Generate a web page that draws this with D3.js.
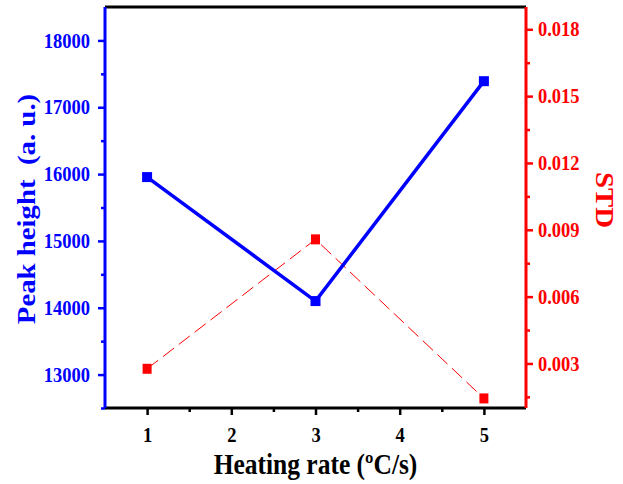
<!DOCTYPE html>
<html>
<head>
<meta charset="utf-8">
<script src="https://cdn.jsdelivr.net/npm/d3@7"></script>
<style>
  body { margin: 0; background: #fff; }
  text { font-family: "Liberation Serif", "Times New Roman", serif; font-weight: bold; }
</style>
</head>
<body>
<script>
// données
const rates = [1, 3, 5];
const peakHeight = [15955, 14100, 17390];
const std = [0.00276, 0.00857, 0.00143];
const xTicks = [1, 2, 3, 4, 5];
const leftTicks = [13000, 14000, 15000, 16000, 17000, 18000];
const rightTicks = [0.003, 0.006, 0.009, 0.012, 0.015, 0.018];

const width = 623;
const height = 484;
const margin = { top: 7, right: 97, bottom: 76, left: 105 };
const stretch = 1.13; // le texte de la figure est un peu étiré en hauteur

const svg = d3.select('body')
  .append('svg')
  .attr('width', width)
  .attr('height', height);

const x = d3.scaleLinear()
  .domain([0.5, 5.5])
  .range([margin.left, width - margin.right]);

const yL = d3.scaleLinear()
  .domain([12500, 18500])
  .range([height - margin.bottom, margin.top]);

const yR = d3.scaleLinear()
  .domain([0.001, 0.019])
  .range([height - margin.bottom, margin.top]);

const blue = '#0000ff';
const red = '#ff0000';

// axe du bas (ticks mineurs puis majeurs)
svg.append('g')
  .attr('transform', `translate(0, ${height - margin.bottom})`)
  .call(d3.axisBottom(x).tickValues([1.5, 2.5, 3.5, 4.5]).tickSize(4).tickFormat(''))
  .call(g => g.selectAll('line').attr('stroke-width', 2.5))
  .call(g => g.select('.domain').remove());
svg.append('g')
  .attr('transform', `translate(0, ${height - margin.bottom})`)
  .call(d3.axisBottom(x).tickValues(xTicks).tickSize(7).tickPadding(10).tickFormat(d3.format('d')))
  .call(g => g.select('.domain').remove())
  .call(g => g.selectAll('line').attr('stroke-width', 2.5))
  .call(g => g.selectAll('text').attr('font-size', 18.5).attr('fill', '#000')
    .attr('transform', `scale(1, ${stretch})`));

// axe de gauche
svg.append('g')
  .attr('transform', `translate(${margin.left}, 0)`)
  .call(d3.axisLeft(yL).tickValues(d3.range(12500, 18500, 1000)).tickSize(4).tickFormat(''))
  .call(g => g.select('.domain').remove())
  .call(g => g.selectAll('line').attr('stroke', blue).attr('stroke-width', 2.5));
svg.append('g')
  .attr('transform', `translate(${margin.left}, 0)`)
  .call(d3.axisLeft(yL).tickValues(leftTicks).tickSize(7).tickPadding(8).tickFormat(d3.format('d')))
  .call(g => g.select('.domain').remove())
  .call(g => g.selectAll('line').attr('stroke', blue).attr('stroke-width', 2.5))
  .call(g => g.selectAll('text').attr('font-size', 18.5).attr('fill', blue)
    .attr('transform', `scale(1, ${stretch})`));

// axe de droite
svg.append('g')
  .attr('transform', `translate(${width - margin.right}, 0)`)
  .call(d3.axisRight(yR).tickValues([0.0015, 0.0045, 0.0075, 0.0105, 0.0135, 0.0165]).tickSize(4).tickFormat(''))
  .call(g => g.select('.domain').remove())
  .call(g => g.selectAll('line').attr('stroke', red).attr('stroke-width', 2.5));
svg.append('g')
  .attr('transform', `translate(${width - margin.right}, 0)`)
  .call(d3.axisRight(yR).tickValues(rightTicks).tickSize(7).tickPadding(5).tickFormat(d3.format('.3f')))
  .call(g => g.select('.domain').remove())
  .call(g => g.selectAll('line').attr('stroke', red).attr('stroke-width', 2.5))
  .call(g => g.selectAll('text').attr('font-size', 18.5).attr('fill', red)
    .attr('transform', `scale(1, ${stretch})`));

// cadre
const x0 = margin.left, x1 = width - margin.right;
const y0 = margin.top, y1 = height - margin.bottom;
svg.append('line').attr('x1', x0).attr('x2', x1).attr('y1', y0).attr('y2', y0)
  .attr('stroke', '#000').attr('stroke-width', 3);
svg.append('line').attr('x1', x0).attr('x2', x1).attr('y1', y1).attr('y2', y1)
  .attr('stroke', '#000').attr('stroke-width', 3);
svg.append('line').attr('x1', x0).attr('x2', x0).attr('y1', y0).attr('y2', y1)
  .attr('stroke', blue).attr('stroke-width', 3);
svg.append('line').attr('x1', x1).attr('x2', x1).attr('y1', y0).attr('y2', y1)
  .attr('stroke', red).attr('stroke-width', 3);

// série STD (rouge, tirets)
const lineR = d3.line().x((d, i) => x(rates[i])).y(d => yR(d));
svg.append('path')
  .datum(std)
  .attr('d', lineR)
  .attr('fill', 'none')
  .attr('stroke', red)
  .attr('stroke-width', 1)
  .attr('stroke-dasharray', '14,6');
svg.append('g')
  .selectAll('rect')
  .data(std)
  .enter()
  .append('rect')
  .attr('x', (d, i) => x(rates[i]) - 4.5)
  .attr('y', d => yR(d) - 5)
  .attr('width', 9)
  .attr('height', 10)
  .attr('fill', red);

// série hauteur de pic (bleu)
const lineL = d3.line().x((d, i) => x(rates[i])).y(d => yL(d));
svg.append('path')
  .datum(peakHeight)
  .attr('d', lineL)
  .attr('fill', 'none')
  .attr('stroke', blue)
  .attr('stroke-width', 3.5);
svg.append('g')
  .selectAll('rect')
  .data(peakHeight)
  .enter()
  .append('rect')
  .attr('x', (d, i) => x(rates[i]) - 5)
  .attr('y', d => yL(d) - 5)
  .attr('width', 10)
  .attr('height', 10)
  .attr('fill', blue);

// titres
svg.append('text')
  .attr('transform', `translate(${(x0 + x1) / 2}, 474) scale(1, ${stretch})`)
  .attr('text-anchor', 'middle')
  .attr('font-size', 25.5)
  .attr('fill', '#000')
  .text('Heating rate (\u00BAC/s)');

svg.append('text')
  .attr('transform', `translate(35, 209) scale(1, ${stretch}) rotate(-90)`)
  .attr('text-anchor', 'middle')
  .attr('font-size', 25.5)
  .attr('fill', blue)
  .style('white-space', 'pre')
  .text('Peak height  (a. u.)');

svg.append('text')
  .attr('transform', `translate(596, 200) scale(1, ${stretch}) rotate(90)`)
  .attr('text-anchor', 'middle')
  .attr('font-size', 25.5)
  .attr('fill', red)
  .text('STD');
</script>
</body>
</html>
